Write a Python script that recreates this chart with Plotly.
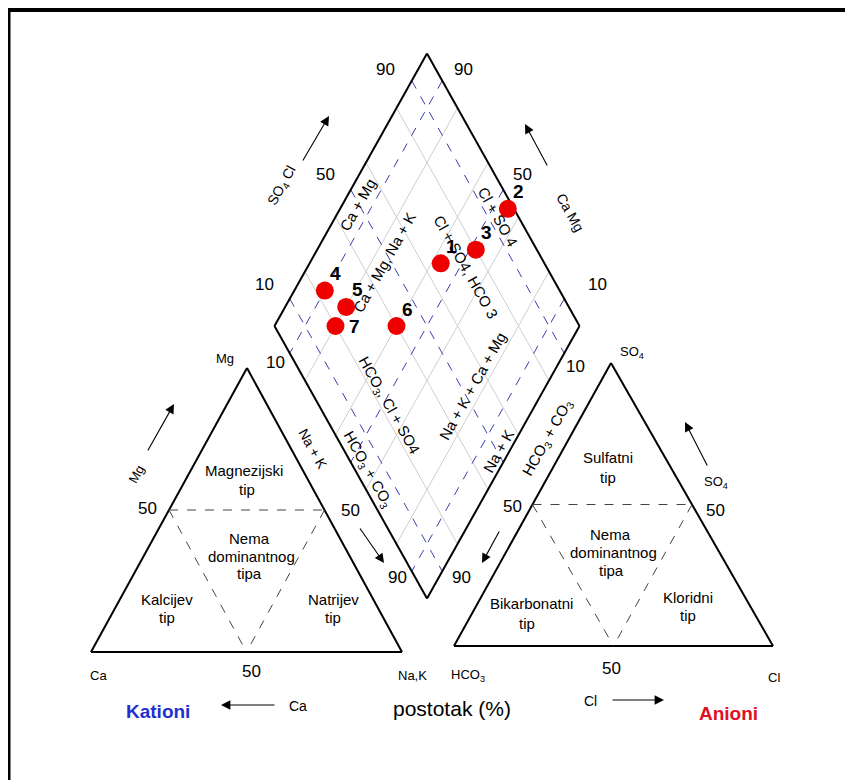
import numpy as np
import plotly.graph_objects as go

# ---------------- data ----------------
sample_ids = ["1", "2", "3", "4", "5", "6", "7"]
na_k_pct = [43, 55, 52, 10, 20, 40, 20]        # Na+K  (% of cations)
so4_cl_pct = [66, 98, 80, 23, 27, 40, 20]      # SO4+Cl (% of anions)
label_side = ["top right", "top right", "top right", "top right",
              "top right", "top right", "middle right"]
class_ticks = [10, 50, 90]
grid_ticks = [20, 40, 60, 80]

# ---------------- geometry (pixel space) ----------------
W, H = 853, 780
PAGE = 8  # default body margin of the html page
T = np.array([427.0, 53.5])
L = np.array([274.5, 326.0])
R = np.array([579.5, 326.0])
B = L + (R - T)

CT = dict(apex=np.array([247.0, 368.0]), bl=np.array([91.0, 652.0]), br=np.array([402.0, 652.0]))
AT = dict(apex=np.array([611.0, 363.0]), bl=np.array([454.0, 646.0]), br=np.array([773.0, 646.0]))


def dpt(a, b):
    return T + a * (L - T) + b * (R - T)


FONT = "Liberation Sans, Arial, sans-serif"

fig = go.Figure()
shapes = []
annotations = []


def seg(p, q, color="black", width=2, dash="solid"):
    shapes.append(dict(type="line", xref="x", yref="y", x0=p[0], y0=p[1], x1=q[0], y1=q[1],
                       line=dict(color=color, width=width, dash=dash), layer="below"))


def txt(s, x, y, size=14, angle=0, bold=False, color="black", family=FONT):
    if bold:
        s = "<b>" + s + "</b>"
    annotations.append(dict(text=s, x=x, y=y, xref="x", yref="y", showarrow=False,
                            textangle=angle, font=dict(size=size, color=color, family=family),
                            xanchor="center", yanchor="middle"))


def arrow(tail, head):
    annotations.append(dict(text="", x=head[0], y=head[1], ax=tail[0], ay=tail[1],
                            xref="x", yref="y", axref="x", ayref="y", showarrow=True,
                            arrowhead=2, arrowsize=1.7, arrowwidth=1.1, arrowcolor="black",
                            standoff=0, startstandoff=0))


# frame
seg((6, 10), (W + 20, 10), width=4)
seg((8.5, 8), (8.5, H + 20), width=4)

# diamond grid
for g in grid_ticks:
    f = g / 100
    seg(dpt(f, 0), dpt(f, 1), color="#cfcfcf", width=1)
    seg(dpt(0, f), dpt(1, f), color="#cfcfcf", width=1)
for t in class_ticks:
    f = t / 100
    seg(dpt(f, 0), dpt(f, 1), color="#3b3bb0", width=1, dash="dash")
    seg(dpt(0, f), dpt(1, f), color="#3b3bb0", width=1, dash="dash")
for p, q in [(T, L), (L, B), (B, R), (R, T)]:
    seg(p, q, width=2)

# triangles
for tri in (CT, AT):
    a, bl, br = tri["apex"], tri["bl"], tri["br"]
    seg(a, bl, width=2)
    seg(bl, br, width=2)
    seg(br, a, width=2)
    ml, mr, mb = (a + bl) / 2, (a + br) / 2, (bl + br) / 2
    seg(ml, mr, color="#444444", width=1, dash="dash")
    seg(ml, mb, color="#444444", width=1, dash="dash")
    seg(mr, mb, color="#444444", width=1, dash="dash")

ang = float(np.degrees(np.arctan2(R[1] - T[1], R[0] - T[0])))  # ~60.8

# diamond edge tick labels
txt("90", 385, 69, 17); txt("90", 463, 69, 17)
txt("50", 325, 174, 17); txt("50", 522, 174, 17)
txt("10", 264, 284, 17); txt("10", 597, 284, 17)
txt("10", 275, 362, 17); txt("10", 575, 366, 17)
txt("90", 397, 577, 17); txt("90", 461, 577, 17)

# diamond axis titles and arrows
txt("SO<sub>4</sub> Cl", 282, 186, 14, -ang)
arrow((302, 162), (329, 116))
txt("Ca Mg", 570, 212, 14, ang)
arrow((548, 167), (525, 124))

# zone labels in the diamond
txt("Ca + Mg", 357, 205, 15, -ang)
txt("Ca + Mg, Na + K", 384, 262, 15, -ang)
txt("Cl + SO4, HCO 3", 466, 266, 15, ang)
txt("Cl + SO 4", 498, 216, 15, ang)
txt("HCO<sub>3</sub>, Cl + SO4", 389, 405, 15, ang)
txt("Na + K + Ca + Mg", 472, 386, 15, -ang)
txt("Na + K", 498, 451, 15, -ang)
txt("HCO<sub>3</sub> + CO<sub>3</sub>", 368, 469, 15, ang)
txt("Na + K", 313, 449, 14, ang)
txt("HCO<sub>3</sub> + CO<sub>3</sub>", 547, 438, 15, -ang)
arrow((359, 527), (384, 563))
arrow((500, 530), (482, 563))

# cation triangle texts
txt("Mg", 225, 358, 13)
txt("Mg", 136, 474, 13, -ang)
arrow((147, 452), (174, 404))
txt("50", 147, 508, 17); txt("50", 350, 510, 17)
txt("Magnezijski", 244, 470, 15); txt("tip", 247, 489, 15)
txt("Nema", 249, 538, 15); txt("dominantnog", 251, 556, 15); txt("tipa", 249, 573, 15)
txt("Kalcijev", 167, 599, 15); txt("tip", 167, 617, 15)
txt("Natrijev", 333, 599, 15); txt("tip", 333, 617, 15)
txt("Ca", 98, 675, 13); txt("50", 251, 671, 17); txt("Na,K", 412, 675, 13)

# anion triangle texts
txt("SO<sub>4</sub>", 632, 352, 13)
txt("SO<sub>4</sub>", 716, 482, 13)
arrow((708, 467), (685, 422))
txt("50", 512, 506, 17); txt("50", 715, 510, 17)
txt("Sulfatni", 608, 457, 15); txt("tip", 608, 477, 15)
txt("Nema", 610, 534, 15); txt("dominantnog", 613, 552, 15); txt("tipa", 611, 570, 15)
txt("Bikarbonatni", 531, 603, 15); txt("tip", 527, 623, 15)
txt("Kloridni", 688, 597, 15); txt("tip", 688, 615, 15)
txt("HCO<sub>3</sub>", 468, 675, 13); txt("50", 611, 668, 17); txt("Cl", 774, 677, 13)

# bottom legend row
txt("Kationi", 158, 711, 19, bold=True, color="#1f2fd0")
arrow((276, 705), (221, 705))
txt("Ca", 298, 706, 14)
txt("postotak (%)", 452, 708, 21)
txt("Cl", 590, 701, 14)
arrow((611, 700), (664, 700))
txt("Anioni", 728, 713, 19, bold=True, color="#e0101e")

# ---------------- samples projected into the diamond ----------------
a_vals = 1 - np.array(so4_cl_pct) / 100.0
b_vals = np.array(na_k_pct) / 100.0
pts = np.array([dpt(a, b) for a, b in zip(a_vals, b_vals)])

fig.add_trace(go.Scatter(
    x=pts[:, 0], y=pts[:, 1], mode="markers",
    marker=dict(size=18, color="#ee0000", line=dict(width=0)),
    hoverinfo="skip", showlegend=False, cliponaxis=False))

offsets = {"top right": (11, 17), "middle right": (19, 0)}
for sid, (px, py), side in zip(sample_ids, pts, label_side):
    dx, dy = offsets[side]
    annotations.append(dict(text="<b>" + sid + "</b>", x=px, y=py, xref="x", yref="y",
                            showarrow=False, xshift=dx, yshift=dy,
                            font=dict(family=FONT, size=19, color="black"),
                            xanchor="center", yanchor="middle"))

fig.update_layout(
    width=W, height=H, margin=dict(l=0, r=0, t=0, b=0),
    paper_bgcolor="white", plot_bgcolor="white",
    xaxis=dict(range=[PAGE, W + PAGE], visible=False, fixedrange=True),
    yaxis=dict(range=[H + PAGE, PAGE], visible=False, fixedrange=True),
    shapes=shapes, annotations=annotations, showlegend=False,
)

fig.write_html("out.html")
